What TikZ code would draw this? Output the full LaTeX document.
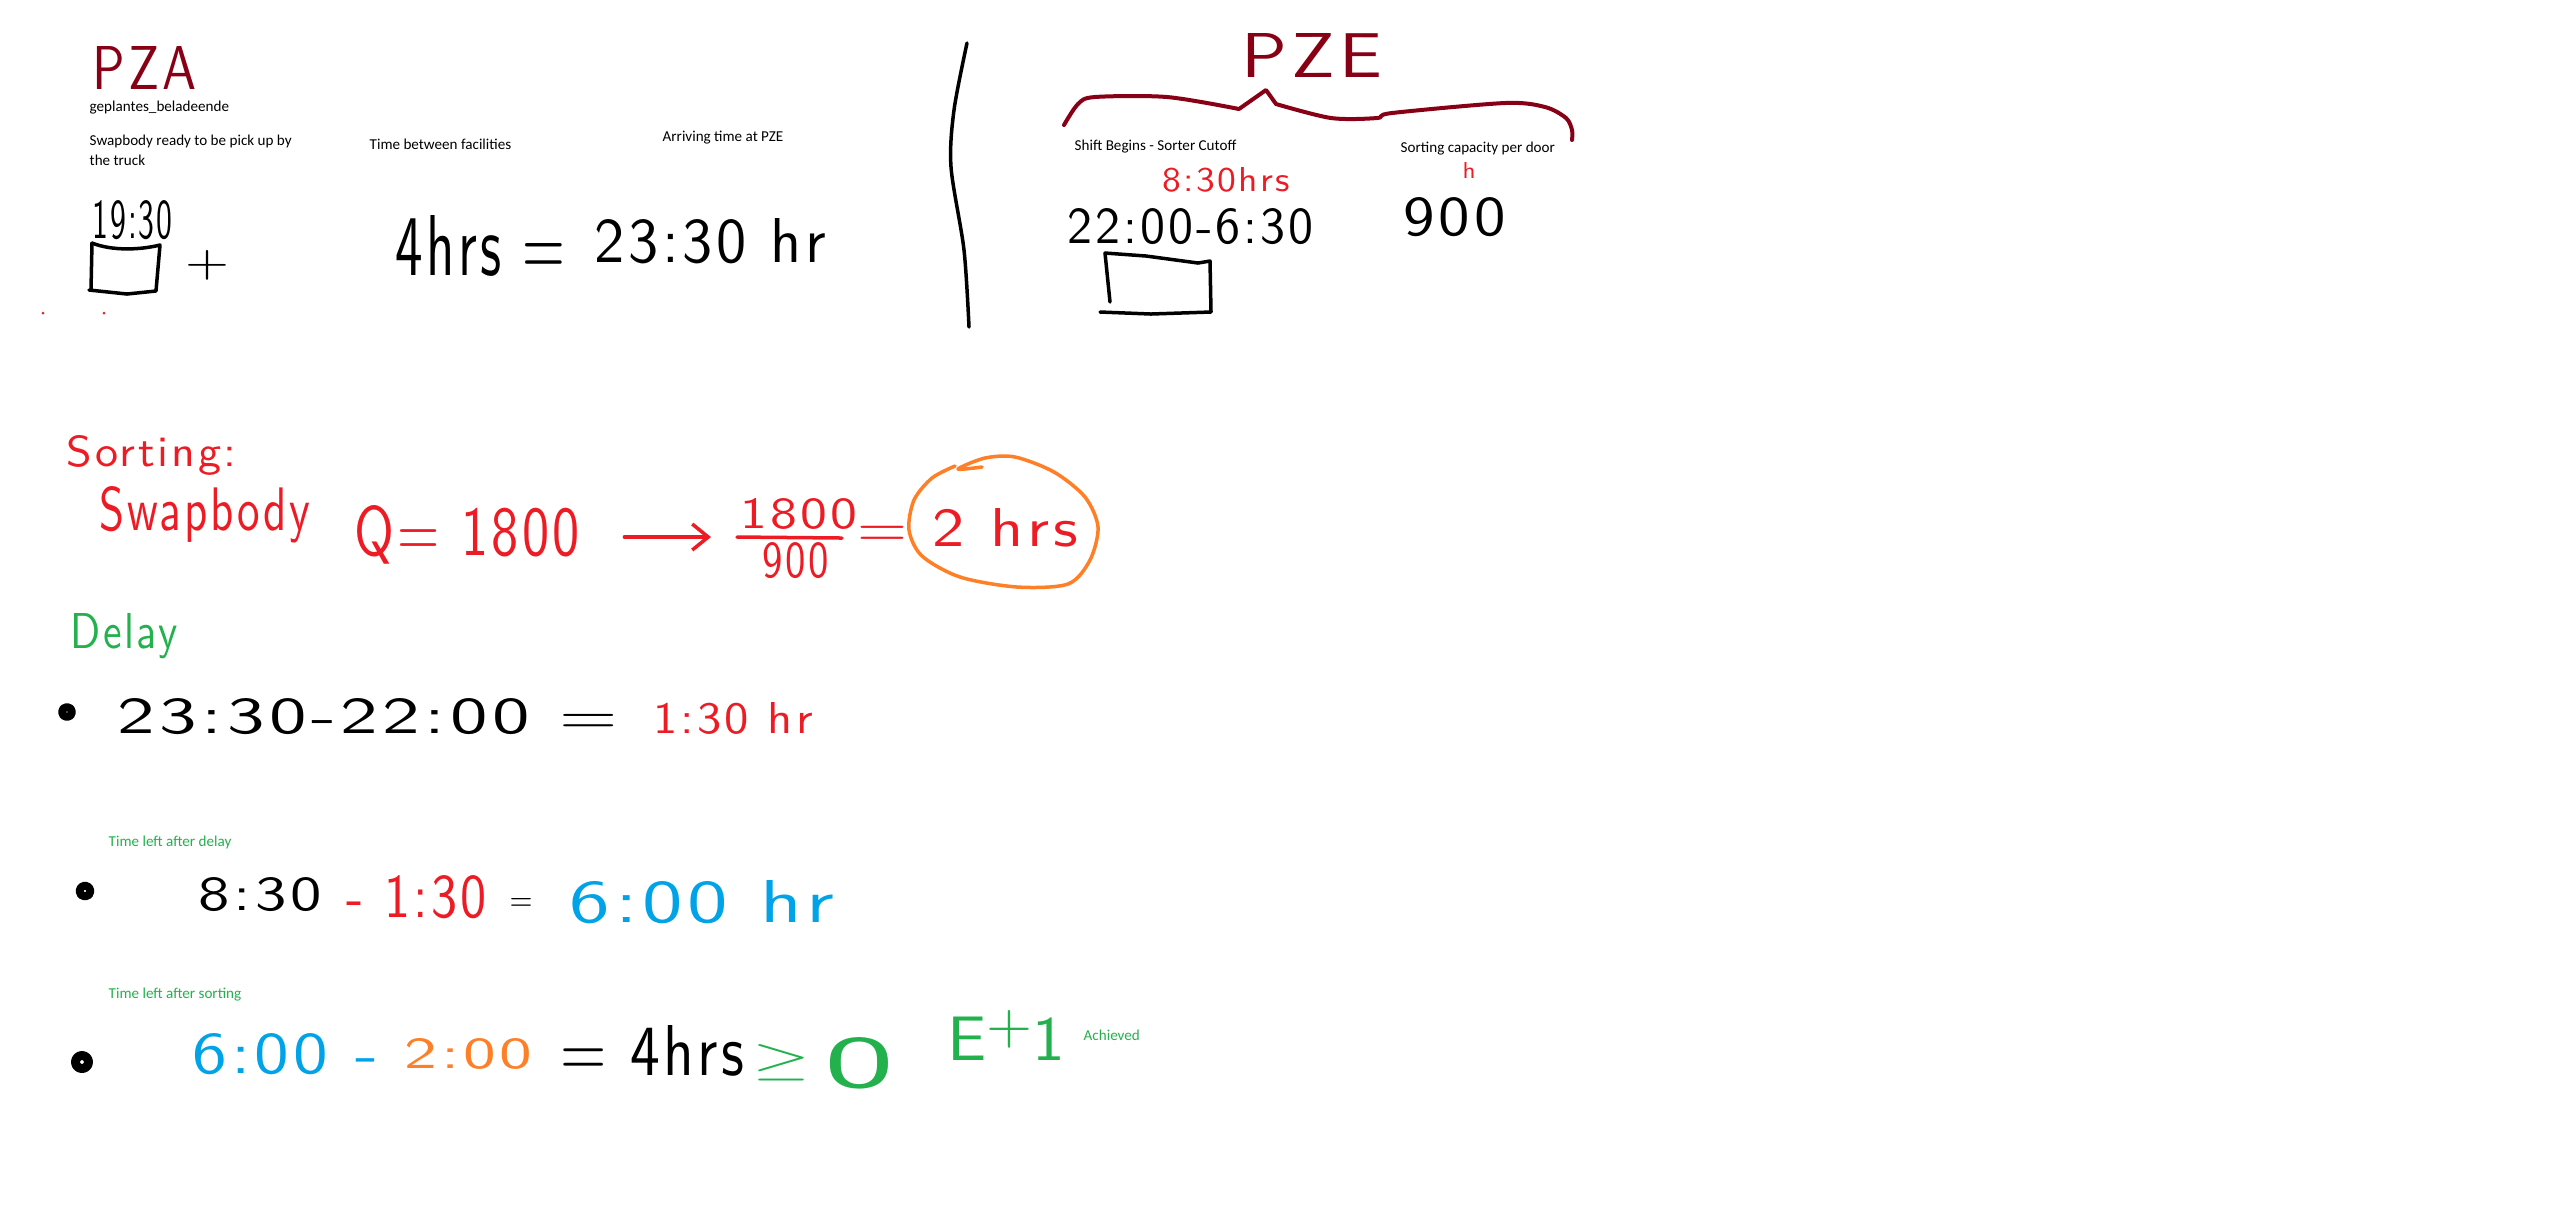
\documentclass[tikz,border=0pt]{standalone}
\usepackage{fontspec}
\usetikzlibrary{arrows.meta}
\newfontfamily\labelfont{Carlito}
\newfontfamily\handfont{lmsans10-regular}[Extension=.otf,LetterSpace=6]
\newlength\pxu
\setlength\pxu{0.1mm}
% board writing, squeezed to the size it has on the board
\newcommand{\hand}[3]{\resizebox{#1\pxu}{#2\pxu}{\handfont #3}}
\newcommand{\sym}[3]{\resizebox{#1\pxu}{#2\pxu}{\sffamily #3}}
\definecolor{pzred}{HTML}{880015}
\definecolor{pred}{HTML}{ED1C24}
\definecolor{porange}{HTML}{FF7F27}
\definecolor{pgreen}{HTML}{22B14C}
\definecolor{pblue}{HTML}{00A2E8}

\begin{document}
\begin{tikzpicture}[x=0.1mm,y=-0.1mm,line cap=round,line join=round,
  ink/.style={line width=0.35mm},
  hw/.style={inner sep=0pt,anchor=base west},
  lbl/.style={inner sep=0pt,anchor=base west,font=\labelfont\fontsize{4.3}{5.2}\selectfont}]
  \fill[white] (0,0) rectangle (2550,1230);
  \useasboundingbox (0,0) rectangle (2550,1230);

  % PZA side
  \node[hw,pzred] (pza) at (92,89) {\hand{104}{43}{PZA}};
  \node[lbl] (plan) at (89,111) {geplantes\_beladeende};
  \node[lbl] (swap1) at (89,145) {Swapbody ready to be pick up by};
  \node[lbl] (swap2) at (89,165) {the truck};
  \node[lbl] (between) at (369,149) {Time between facilities};
  \node[lbl] (arrlbl) at (662,141) {Arriving time at PZE};
  \node[hw] (ready) at (92,238) {\hand{80}{38}{19:30}};
  \draw[ink] (92,243) .. controls (112,251) and (140,250) .. (160,245) -- (156,291) -- (127,294) -- (89,290);
  \draw[ink] (92,243) -- (91,290);
  \node[hw] (plus) at (185,276) {\sym{44}{26}{+}};
  \node[hw] (travel) at (395,275) {\hand{170}{60}{4hrs =}};
  \node[hw] (arrive) at (594,262) {\hand{231}{44}{23:30 hr}};
  \fill[pred] (43,313) circle (1.5);
  \fill[pred] (104,313) circle (1.5);

  \draw[ink] plot[smooth] coordinates {(967,43) (954,110) (951,167) (964,250) (969,327)};

  % PZE side
  \node[hw,pzred] (pze) at (1241,77) {\hand{141}{44}{PZE}};
  \draw[ink,pzred,line width=0.4mm] plot[smooth,tension=0.5] coordinates {(1064,125) (1078,104) (1095,97) (1167,97) (1239,109)}
    -- (1266,90) -- plot[smooth,tension=0.5] coordinates {(1276,104) (1331,118) (1377,118) (1392,113) (1505,103) (1545,107) (1566,118) (1572,130) (1572,140)};
  \node[lbl] (shift) at (1074,150) {Shift Begins - Sorter Cutoff};
  \node[lbl] (cap) at (1400,152) {Sorting capacity per door};
  \node[hw,pred] (cutoff) at (1162,191) {\hand{127}{24}{8:30hrs}};
  \node[hw] (window) at (1067,243) {\hand{246}{35}{22:00-6:30}};
  \draw[ink] (1105,253) -- (1146,256) -- (1198,263) -- (1210,261) -- (1211,312) -- (1151,314) -- (1100,312);
  \draw[ink] (1105,253) -- (1110,302);
  \node[hw,pred] (hour) at (1462,178) {\sym{13}{16}{h}};
  \node[hw] (door) at (1403,235) {\hand{102}{38}{900}};

  % sorting
  \node[hw,pred] (sorting) at (66,466) {\hand{170}{31}{Sorting:}};
  \node[hw,pred] (swapbody) at (99,530) {\hand{211}{44}{Swapbody}};
  \node[hw,pred] (qval) at (354,555) {\hand{225}{50}{Q= 1800}};
  \coordinate (barL) at (737,537);
  \coordinate (barR) at (842,538);
  \node[hw,pred] (num) at (740,528) {\hand{117}{30}{1800}};
  \node[hw,pred] (den) at (762,577) {\hand{66}{35}{900}};
  \draw[ink,pred] (barL) -- (barR);
  \draw[ink,pred,-{Straight Barb[length=1.6mm,width=2.6mm]},shorten <=4.4mm,shorten >=2.6mm] (qval.east |- barL) -- (barL);
  \node[hw,pred] (res) at (857,546) {\hand{220}{38}{= 2 hrs}};
  \draw[ink,porange] plot[smooth] coordinates {(982,467) (958,469) (985,458) (1015,457) (1054,472) (1085,497) (1098,527) (1090,560) (1068,584) (1017,587) (960,577) (922,556) (909,530) (914,500) (932,478) (955,466)};

  % delay
  \node[hw,pgreen] (delay) at (70,648) {\hand{107}{35}{Delay}};
  \draw[line width=0.8mm] (67,712) circle (5);
  \node[hw] (diff) at (117,733) {\hand{500}{35}{23:30-22:00 =}};
  \node[hw,pred] (late) at (653,733) {\hand{159}{31}{1:30 hr}};

  \node[lbl,pgreen] (afterdelay) at (108,846) {Time left after delay};
  \draw[line width=0.8mm] (85,891) circle (5.5);
  \node[hw] (shiftlen) at (198,910) {\hand{123}{33}{8:30}};
  \node[hw,pred] (minus) at (346,917) {\hand{140}{42}{- 1:30}};
  \node[hw] (eqC) at (509,910) {\sym{23}{12}{=}};
  \node[hw,pblue] (rem) at (569,922) {\hand{265}{42}{6:00 hr}};

  \node[lbl,pgreen] (aftersort) at (108,998) {Time left after sorting};
  \draw[line width=0.9mm] (82,1062) circle (6.5);
  \node[hw,pblue] (rem2) at (192,1073) {\hand{186}{40}{6:00 -}};
  \node[hw,porange] (srt) at (404,1068) {\hand{128}{30}{2:00}};
  \node[hw] (fin) at (560,1075) {\hand{184}{50}{= 4hrs}};
  \node[hw,pgreen] (geq) at (752,1074) {\sym{58}{30}{$\geq$}};
  \node[hw,pgreen] (zero) at (824,1087) {\sym{70}{50}{0}};
  \node[hw,pgreen] (ok) at (947,1060) {\hand{118}{50}{E{\small\raisebox{0.3em}{+}}1}};
  \node[lbl,pgreen] (achieved) at (1083,1040) {Achieved};
\end{tikzpicture}
\end{document}
